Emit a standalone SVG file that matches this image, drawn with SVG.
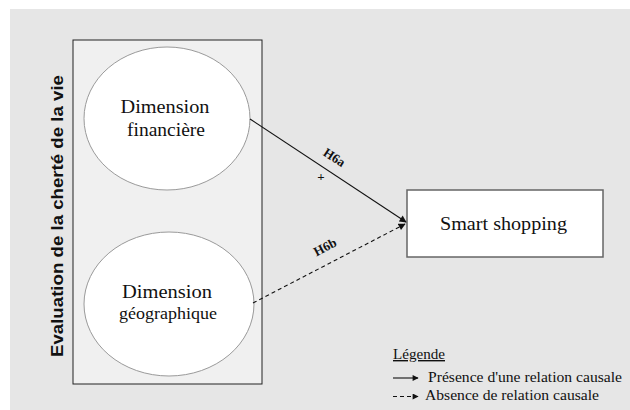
<svg xmlns="http://www.w3.org/2000/svg" width="630" height="410" viewBox="0 0 630 410">
<defs>
<style>
.serif{font-family:"Liberation Serif","Times New Roman",serif;fill:#111}
.node{fill:#fff;stroke:#9a9a9a;stroke-width:1}
.conn{stroke:#111;stroke-width:1.1;fill:none}
.dash{stroke-dasharray:4,3}
</style>
<marker id="ah" viewBox="0 0 10 10" refX="9" refY="5" markerWidth="8" markerHeight="7" orient="auto" markerUnits="userSpaceOnUse">
<path d="M0,0 L10,5 L0,10 z" fill="#111"/>
</marker>
<marker id="ahs" viewBox="0 0 10 10" refX="9" refY="5" markerWidth="7" markerHeight="6" orient="auto" markerUnits="userSpaceOnUse">
<path d="M0,0 L10,5 L0,10 z" fill="#111"/>
</marker>
</defs>
<rect x="0" y="0" width="630" height="410" fill="#fff"/>
<rect x="10" y="9" width="620" height="401" fill="#e6e6e6"/>
<g id="group-box">
<rect x="73" y="40" width="189" height="344" fill="#f0f0f0" stroke="#222" stroke-width="1"/>
<text transform="translate(63,216) rotate(-90)" text-anchor="middle" font-family="Liberation Sans, Arial, sans-serif" font-weight="bold" font-size="17" fill="#111" textLength="282" lengthAdjust="spacingAndGlyphs">Evaluation de la cherté de la vie</text>
</g>
<g id="node-financiere">
<ellipse class="node" cx="167" cy="118.5" rx="83" ry="71.5"/>
<text class="serif" x="165" y="113" text-anchor="middle" font-size="18" textLength="89" lengthAdjust="spacingAndGlyphs">Dimension</text>
<text class="serif" x="166" y="136" text-anchor="middle" font-size="18" textLength="78" lengthAdjust="spacingAndGlyphs">financière</text>
</g>
<g id="node-geographique">
<ellipse class="node" cx="169" cy="304" rx="85" ry="72"/>
<text class="serif" x="167" y="298" text-anchor="middle" font-size="18" textLength="90" lengthAdjust="spacingAndGlyphs">Dimension</text>
<text class="serif" x="168" y="319" text-anchor="middle" font-size="16" textLength="98" lengthAdjust="spacingAndGlyphs">géographique</text>
</g>
<g id="node-smart">
<rect x="407" y="190" width="196" height="67" fill="#fff" stroke="#666" stroke-width="1.5"/>
<text class="serif" x="503.5" y="230" text-anchor="middle" font-size="19" textLength="127" lengthAdjust="spacingAndGlyphs">Smart shopping</text>
</g>
<g id="connectors">
<line class="conn" x1="250" y1="119" x2="406" y2="222" marker-end="url(#ah)"/>
<line class="conn dash" x1="253" y1="303" x2="405" y2="224" marker-end="url(#ah)"/>
<text class="serif" transform="translate(332,161) rotate(33.4)" text-anchor="middle" font-size="13" font-weight="bold">H6a</text>
<text class="serif" x="321" y="181" text-anchor="middle" font-size="13" font-weight="bold">+</text>
<text class="serif" transform="translate(327,251) rotate(-27.8)" text-anchor="middle" font-size="13" font-weight="bold">H6b</text>
</g>
<g id="legend">
<text class="serif" x="393" y="359" font-size="14" text-decoration="underline" textLength="52" lengthAdjust="spacingAndGlyphs">Légende</text>
<line class="conn" x1="393" y1="378" x2="418" y2="378" marker-end="url(#ahs)"/>
<text class="serif" x="428" y="382" font-size="14" textLength="194" lengthAdjust="spacingAndGlyphs">Présence d'une relation  causale</text>
<line class="conn dash" x1="393" y1="396.5" x2="418" y2="396.5" marker-end="url(#ahs)"/>
<text class="serif" x="425" y="400" font-size="14" textLength="174" lengthAdjust="spacingAndGlyphs">Absence de relation  causale</text>
</g>
</svg>
